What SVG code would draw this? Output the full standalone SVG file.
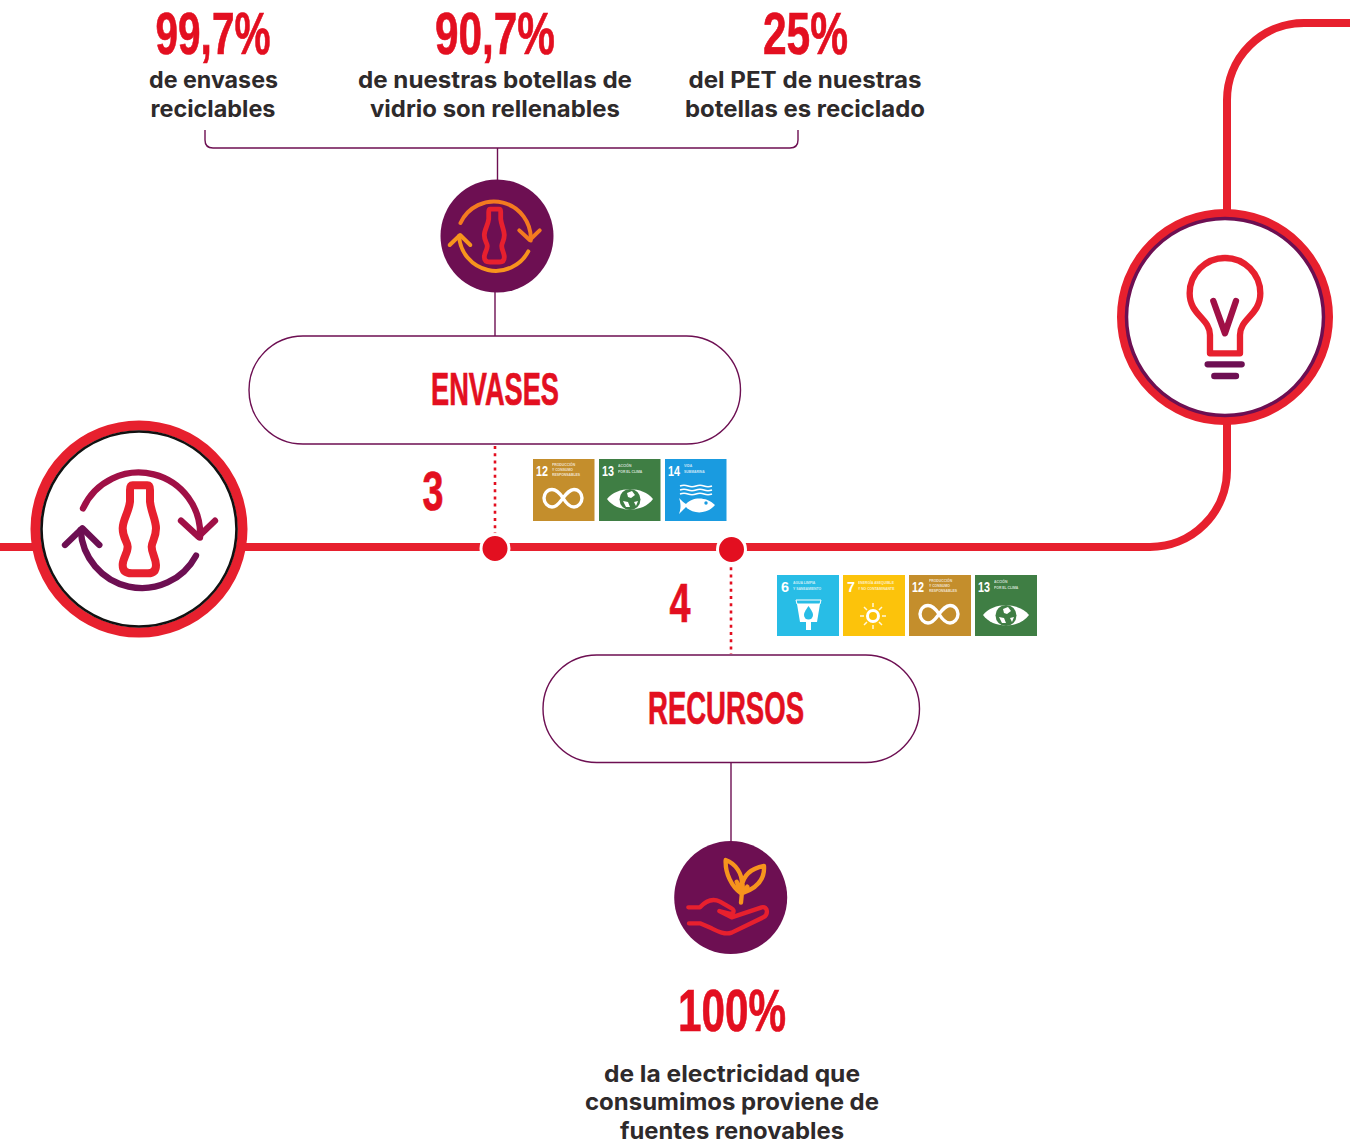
<svg xmlns="http://www.w3.org/2000/svg" width="1350" height="1144" viewBox="0 0 1350 1144">
<style>
.big{font-family:"Liberation Sans",Arial,sans-serif;font-weight:700;fill:#e30f20;stroke:#e30f20;stroke-width:.7;text-anchor:middle}
.body{font-family:"Inter","Liberation Sans",sans-serif;font-weight:700;font-size:23px;fill:#2e2a2b;text-anchor:middle}
.thin{fill:none;stroke:#6d0f52;stroke-width:1.4}
.pill{fill:#fff;stroke:#6d0f52;stroke-width:1.4}
.main{fill:none;stroke:#e7202e;stroke-width:8}
.dots{fill:none;stroke:#e30f20;stroke-width:2.6;stroke-dasharray:3 4.2}
.dot{fill:#e30f20;stroke:#fff;stroke-width:3}
.ic{fill:none;stroke-linecap:round;stroke-linejoin:round}
.tn{font-family:"Liberation Sans",sans-serif;font-weight:700;font-size:15px;fill:#fff}
.tt{font-family:"Liberation Sans",sans-serif;font-weight:700;font-size:3.4px;fill:#fff;opacity:.75}
.w{fill:#fff}
</style>
<defs>
<g id="bottle"><path d="M-22,-134 L22,-134 Q30,-134 30,-120 L30,-85 C33,-55 48,-30 48,-5 C48,25 35,35 35,50 C35,70 48,85 48,105 Q48,130 24,130 L-24,130 Q-52,130 -52,105 C-52,85 -37,70 -37,50 C-37,35 -52,25 -52,-5 C-52,-30 -33,-55 -30,-85 L-30,-120 Q-30,-134 -22,-134Z"/></g>
<g id="inf"><path class="ic" stroke="#fff" stroke-width="3.400" d="M30,39 C26,33 22,30.500 19,30.500 C14,30.500 11,35 11,39 C11,44 15,48 19,48 C24,48 27,43 30,39 C34,34 37,30.500 41,30.500 C46,30.500 49,35 49,39 C49,44 45,48 41,48 C36,48 33,44 30,39"/></g>
<g id="eye"><path class="w" d="M8,40 C18,27 44,27 54,40 C44,54 18,54 8,40Z"/><circle cx="31" cy="40.500" r="10.500" fill="#3f7e44"/><path class="w" d="M28,34 l5,-2 l3,4 l-4,3 l-3,-1z M24,42 l5,1 l2,5 l-4,0z M35,43 l4,-1 l-2,5z"/></g>
<g id="arcs-a"><path d="M-171,-65 A184,184 0 0 1 180,23"/><path d="M123,-28 L175,20 L225,-28"/></g>
<g id="arcs-b"><path d="M168,77 A184,184 0 0 1 -178,0"/><path d="M-225,45 L-173,-5 L-122,45"/></g>
</defs>

<g id="connectors">
<path class="thin" d="M205,130 V140 Q205,148 213,148 H790 Q798,148 798,140 V130"/>
<path class="thin" d="M497.500,148 V181"/>
<path class="thin" d="M495,291 V337"/>
<path class="thin" d="M731,762 V843"/>
<path class="main" d="M0,547 H1150 A77,77 0 0 0 1227,470 V100 A77,77 0 0 1 1304,23 H1350"/>
<path class="dots" d="M495,446 V538"/>
<path class="dots" d="M731,560 V654"/>
<circle class="dot" cx="495" cy="548.500" r="14"/>
<circle class="dot" cx="731.500" cy="549.500" r="14"/>
</g>

<g id="stat-997"><text class="big" x="213" y="54" font-size="60" textLength="115" lengthAdjust="spacingAndGlyphs">99,7%</text>
<text class="body" x="213.500" y="88" textLength="129" lengthAdjust="spacingAndGlyphs">de envases</text><text class="body" x="213" y="117" textLength="125" lengthAdjust="spacingAndGlyphs">reciclables</text></g>
<g id="stat-907"><text class="big" x="495" y="54" font-size="60" textLength="120" lengthAdjust="spacingAndGlyphs">90,7%</text>
<text class="body" x="495" y="88" textLength="274" lengthAdjust="spacingAndGlyphs">de nuestras botellas de</text><text class="body" x="495" y="117" textLength="250" lengthAdjust="spacingAndGlyphs">vidrio son rellenables</text></g>
<g id="stat-25"><text class="big" x="805.500" y="54" font-size="60" textLength="85" lengthAdjust="spacingAndGlyphs">25%</text>
<text class="body" x="805" y="88" textLength="233" lengthAdjust="spacingAndGlyphs">del PET de nuestras</text><text class="body" x="805" y="117" textLength="240" lengthAdjust="spacingAndGlyphs">botellas es reciclado</text></g>

<g id="icon-envases"><circle cx="497" cy="236" r="56.500" fill="#6d0f52"/>
<g transform="translate(494.700,236) scale(.2)" class="ic" stroke-width="20">
<use href="#bottle" stroke="#e7202e" stroke-width="24"/>
<use href="#arcs-a" stroke="#f47a20"/>
<use href="#arcs-b" stroke="#f7941d"/>
</g></g>

<g id="pill-envases"><rect class="pill" x="249" y="336" width="491.500" height="108" rx="54"/>
<text class="big" x="495" y="405" font-size="47" textLength="128" lengthAdjust="spacingAndGlyphs">ENVASES</text></g>

<g id="num-3"><text class="big" x="433" y="510" font-size="56" textLength="21" lengthAdjust="spacingAndGlyphs">3</text></g>
<g id="num-4"><text class="big" x="680" y="622" font-size="56" textLength="21" lengthAdjust="spacingAndGlyphs">4</text></g>

<g id="sdg-12a" transform="translate(533,459)"><rect width="61.500" height="62" fill="#c48e2c"/><text class="tn" x="3" y="17" textLength="12" lengthAdjust="spacingAndGlyphs">12</text><text class="tt" x="19" y="7">PRODUCCIÓN</text><text class="tt" x="19" y="12">Y CONSUMO</text><text class="tt" x="19" y="17">RESPONSABLES</text><use href="#inf"/></g>
<g id="sdg-13a" transform="translate(599,459)"><rect width="61.500" height="62" fill="#3f7e44"/><text class="tn" x="3" y="17" textLength="12" lengthAdjust="spacingAndGlyphs">13</text><text class="tt" x="19" y="8">ACCIÓN</text><text class="tt" x="19" y="14">POR EL CLIMA</text><use href="#eye"/></g>
<g id="sdg-14" transform="translate(665,459)"><rect width="61.500" height="62" fill="#1a9be0"/><text class="tn" x="3" y="17" textLength="12" lengthAdjust="spacingAndGlyphs">14</text><text class="tt" x="19" y="8">VIDA</text><text class="tt" x="19" y="14">SUBMARINA</text>
<path fill="none" stroke="#fff" stroke-width="1.600" d="M15,27 q4,-1.400 8,0 t8,0 t8,0 t8,0 M15,31 q4,-1.400 8,0 t8,0 t8,0 t8,0 M15,35 q4,-1.400 8,0 t8,0 t8,0 t8,0"/>
<path class="w" d="M14,39 C17,42 19,44 21,45 C27,38 41,37 50,46 C42,56 27,55 21,48 C19,50 17,52 14,55 C16,50 16,44 14,39Z"/><circle cx="41" cy="44" r="1.700" fill="#1a9be0"/></g>

<g id="sdg-6" transform="translate(777,575)"><rect width="62" height="61" fill="#28bde6"/><text class="tn" x="4" y="17" textLength="8" lengthAdjust="spacingAndGlyphs">6</text><text class="tt" x="16" y="9">AGUA LIMPIA</text><text class="tt" x="16" y="15">Y SANEAMIENTO</text>
<path class="w" d="M20,29 H43 L40,47 H34 V55 H29 V47 H23Z"/><path fill="none" stroke="#fff" d="M19,25 H44 L43,29 H20Z"/><path fill="#28bde6" d="M31.500,31 C28,36 27,38 27,40 A4.500,4.500 0 0 0 36,40 C36,38 35,36 31.500,31Z"/></g>
<g id="sdg-7" transform="translate(843,575)"><rect width="62" height="61" fill="#fcc30b"/><text class="tn" x="4" y="17" textLength="8" lengthAdjust="spacingAndGlyphs">7</text><text class="tt" x="15" y="9">ENERGÍA ASEQUIBLE</text><text class="tt" x="15" y="15">Y NO CONTAMINANTE</text>
<circle cx="30" cy="41" r="5.500" fill="none" stroke="#fff" stroke-width="3"/><path fill="none" stroke="#fff" stroke-width="1.500" stroke-opacity=".85" d="M30,28 V32 M30,50 V54 M17,41 H21 M39,41 H43 M21,32 L24,35 M39,32 L36,35 M21,50 L24,47 M39,50 L36,47"/></g>
<g id="sdg-12b" transform="translate(909,575)"><rect width="62" height="61" fill="#c48e2c"/><text class="tn" x="3" y="17" textLength="12" lengthAdjust="spacingAndGlyphs">12</text><text class="tt" x="20" y="7">PRODUCCIÓN</text><text class="tt" x="20" y="12">Y CONSUMO</text><text class="tt" x="20" y="17">RESPONSABLES</text><use href="#inf"/></g>
<g id="sdg-13b" transform="translate(975,575)"><rect width="62" height="61" fill="#3f7e44"/><text class="tn" x="3" y="17" textLength="12" lengthAdjust="spacingAndGlyphs">13</text><text class="tt" x="19" y="8">ACCIÓN</text><text class="tt" x="19" y="14">POR EL CLIMA</text><use href="#eye"/></g>

<g id="node-reciclaje"><circle cx="139" cy="529" r="103.500" fill="#fff" stroke="#e7202e" stroke-width="10"/><circle cx="139" cy="529" r="97.500" fill="#fff" stroke="#111" stroke-width="2.600"/>
<g transform="translate(140,530) scale(.3333)" class="ic" stroke-width="19">
<use href="#bottle" stroke="#e7202e" stroke-width="24"/>
<use href="#arcs-a" stroke="#a01046"/>
<use href="#arcs-b" stroke="#6d0f52"/>
</g></g>

<g id="node-idea"><circle cx="1225" cy="317" r="103.500" fill="#fff" stroke="#e7202e" stroke-width="9"/><circle cx="1225" cy="317" r="98.500" fill="none" stroke="#6d0f52" stroke-width="3.500"/>
<g transform="translate(1105,200) scale(.3333)" class="ic" stroke-width="19">
<path stroke="#e7202e" d="M315,460 L315,405 C315,355 254,345 254,280 A106,106 0 1 1 466,280 C466,345 405,355 405,405 L405,460Z"/>
<path stroke="#a01046" d="M325,303 L360,400 L393,303"/>
<path stroke="#6d0f52" d="M308,493 H410 M328,528 H393"/>
</g></g>

<g id="pill-recursos"><rect class="pill" x="543" y="655" width="376.500" height="107.500" rx="53.700"/>
<text class="big" x="726" y="724" font-size="47" textLength="156" lengthAdjust="spacingAndGlyphs">RECURSOS</text></g>

<g id="icon-recursos"><circle cx="730.700" cy="897.500" r="56.500" fill="#6d0f52"/>
<g transform="translate(660,830) scale(.3333)" class="ic" stroke-width="13">
<path stroke="#f7941d" d="M243,190 C215,170 195,130 197,90 C225,100 250,130 245,170 M245,190 C290,175 315,150 312,108 C275,115 250,135 245,170 M243,218 L248,165 M230,155 L243,185 M262,170 L247,190"/>
<path stroke="#e7202e" d="M85,232 L120,232 C140,210 160,205 180,215 L215,235 C225,240 222,255 205,250 L178,243 L215,262 L305,232 C325,228 325,255 310,262 L215,308 C195,315 175,305 155,295 L120,280 L87,280"/>
</g></g>

<g id="stat-100"><text class="big" x="732" y="1031" font-size="60" textLength="108" lengthAdjust="spacingAndGlyphs">100%</text>
<text class="body" x="732" y="1082" textLength="256" lengthAdjust="spacingAndGlyphs">de la electricidad que</text><text class="body" x="732" y="1110" textLength="294" lengthAdjust="spacingAndGlyphs">consumimos proviene de</text><text class="body" x="732" y="1139" textLength="224" lengthAdjust="spacingAndGlyphs">fuentes renovables</text></g>
</svg>
